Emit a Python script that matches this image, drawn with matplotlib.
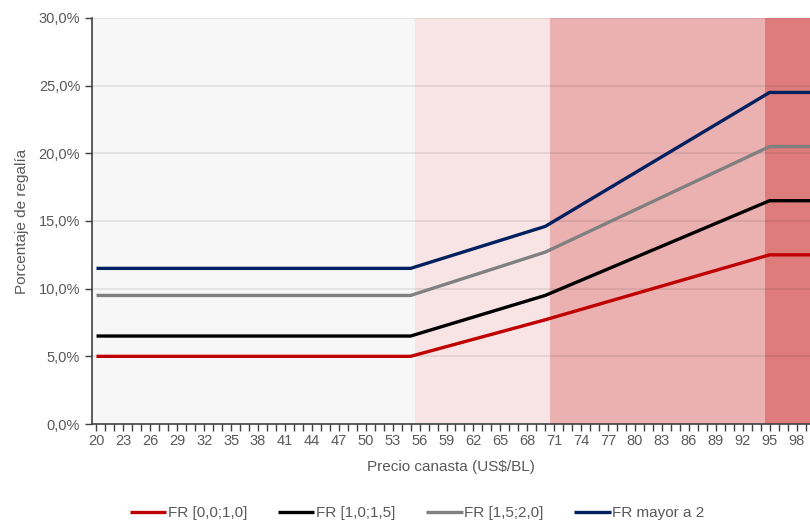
import numpy as np
import matplotlib
matplotlib.use("Agg")
import matplotlib.pyplot as plt
from matplotlib.ticker import FuncFormatter, MultipleLocator

plt.rcParams["font.family"] = ["Liberation Sans", "DejaVu Sans"]

# precios canasta (US$/BL), eje de categorias
prices = np.arange(20, 100)

# tramos de fondo: precio donde empieza cada tramo
zone_start = [20, 56, 71, 95]
zone_colors = ["#f7f7f7", "#f8e4e4", "#ebb1b1", "#de7b7b"]

# puntos de quiebre de las curvas de regalia
break_prices = [20, 55, 70, 95, 100]
fr_00_10 = [5.0, 5.0, 7.7, 12.5, 12.5]
fr_10_15 = [6.5, 6.5, 9.5, 16.5, 16.5]
fr_15_20 = [9.5, 9.5, 12.7, 20.5, 20.5]
fr_mayor2 = [11.5, 11.5, 14.6, 24.5, 24.5]

series = [
    ("FR [0,0;1,0]", fr_00_10, "#c00000"),
    ("FR [1,0;1,5]", fr_10_15, "#000000"),
    ("FR [1,5;2,0]", fr_15_20, "#808080"),
    ("FR mayor a 2", fr_mayor2, "#002060"),
]

fig = plt.figure(figsize=(8.10, 5.21), dpi=100)
ax = fig.add_axes([92 / 810, 1 - 424 / 521, 1 - 92 / 810, (424 - 18) / 521])

zone_idx = np.searchsorted(zone_start, prices, side="right") - 1
ax.bar(prices, 0.30, width=1.0, color=[zone_colors[i] for i in zone_idx],
       linewidth=0, zorder=0)

for y in np.arange(0.05, 0.31, 0.05):
    ax.axhline(y, color="#000000", alpha=0.09, linewidth=1.2, zorder=1)

for label, vals, col in series:
    ax.plot(break_prices, np.array(vals) / 100, color=col, linewidth=2.4,
            label=label, zorder=3, solid_capstyle="butt")

ax.set_xlim(19.5, 99.5)
ax.set_ylim(0, 0.30)
ax.yaxis.set_major_locator(MultipleLocator(0.05))
ax.yaxis.set_major_formatter(FuncFormatter(lambda v, p: f"{v * 100:.1f}%".replace(".", ",")))
ax.set_xticks(np.arange(20, 99, 3))
ax.xaxis.set_minor_locator(MultipleLocator(1))

for side in ["top", "right"]:
    ax.spines[side].set_visible(False)
for side in ["left", "bottom"]:
    ax.spines[side].set_color("#404040")
    ax.spines[side].set_linewidth(1.2)

ax.tick_params(axis="both", which="both", colors="#404040", labelcolor="#595959",
               labelsize=10.5, length=5, width=1)
ax.tick_params(axis="x", pad=2)

ax.set_xlabel("Precio canasta (US$/BL)", fontsize=11, color="#595959", labelpad=9)
ax.set_ylabel("Porcentaje de regalía", fontsize=11, color="#595959", labelpad=7)

fig.legend(loc="center", bbox_to_anchor=(417 / 810, 1 - 513 / 521), ncol=4,
           frameon=False, fontsize=11, handlelength=2.4, handletextpad=0.1,
           columnspacing=2.0, labelcolor="#595959")

fig.savefig("out.png", dpi=100)
